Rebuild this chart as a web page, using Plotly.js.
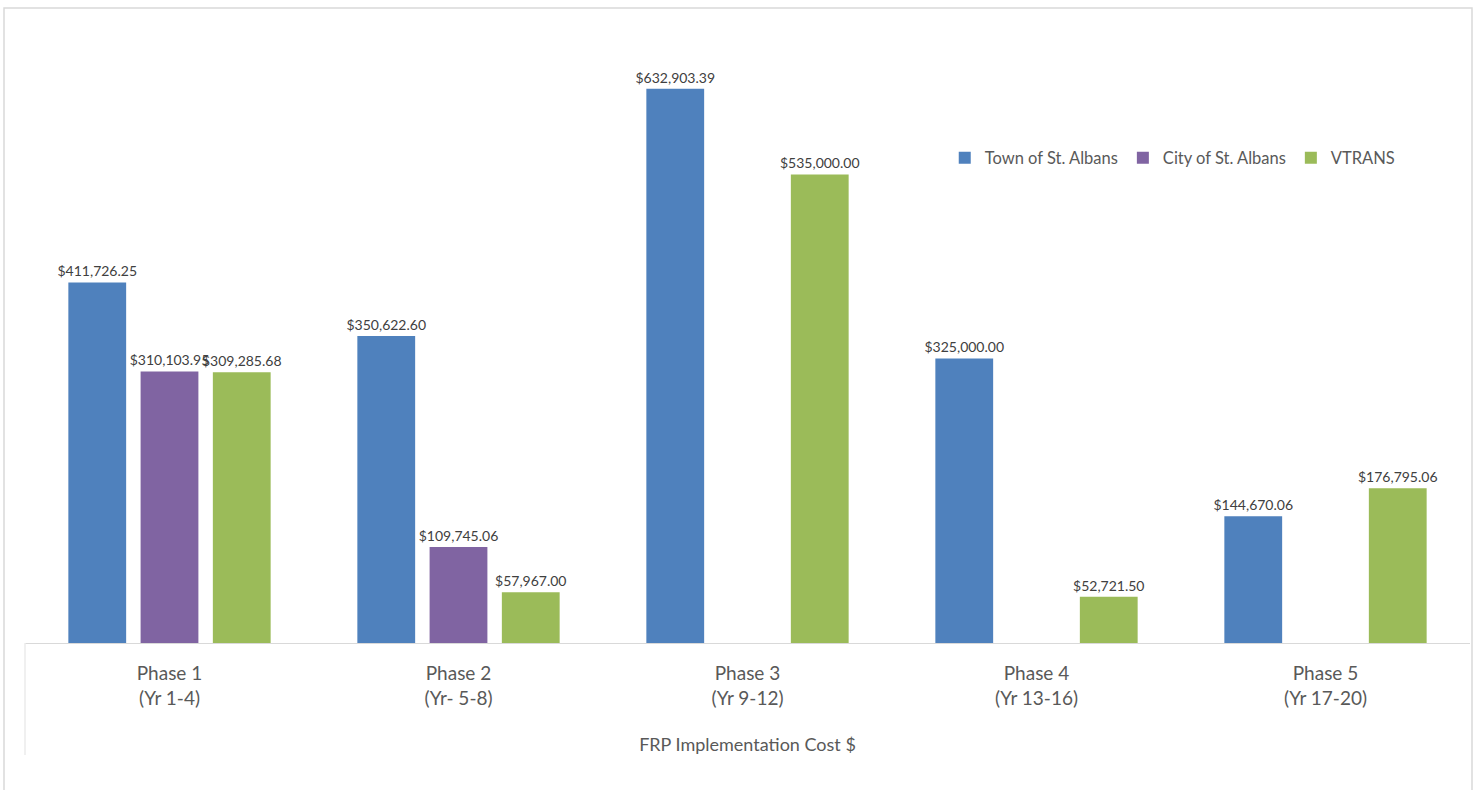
<!DOCTYPE html>
<html>
<head>
<meta charset="utf-8">
<script src="https://cdn.plot.ly/plotly-3.0.1.min.js"></script>
<style>
html,body{margin:0;padding:0;background:#fff;}
#chart{width:1479px;height:790px;}
</style>
</head>
<body>
<div id="chart"></div>
<script>
const categories = ["Phase 1<br>(Yr 1-4)", "Phase 2<br>(Yr- 5-8)", "Phase 3<br>(Yr 9-12)", "Phase 4<br>(Yr 13-16)", "Phase 5<br>(Yr 17-20)"];
const townValues = [411726.25, 350622.60, 632903.39, 325000.00, 144670.06];
const cityValues = [310103.95, 109745.06, null, null, null];
const vtransValues = [309285.68, 57967.00, 535000.00, 52721.50, 176795.06];
const seriesNames = ["Town of St. Albans", "City of St. Albans", "VTRANS"];
const seriesColors = ["#4F81BD", "#8064A2", "#9BBB59"];

const FONT = "Lato, 'Open Sans', sans-serif";
const allValues = [townValues, cityValues, vtransValues];

const traces = allValues.map((vals, i) => ({
  type: "bar",
  name: seriesNames[i],
  x: categories,
  y: vals,
  marker: {color: seriesColors[i]},
  texttemplate: "$%{y:,.2f}",
  textposition: "outside",
  constraintext: "none",
  cliponaxis: false,
  textfont: {family: FONT, size: 14, color: "#404040"},
  hoverinfo: "skip"
}));

const layout = {
  width: 1479,
  height: 790,
  margin: {l: 25, r: 9, t: 30, b: 147},
  paper_bgcolor: "#ffffff",
  plot_bgcolor: "#ffffff",
  barmode: "group",
  bargap: 0.25,
  bargroupgap: 0.2,
  font: {family: FONT, color: "#595959"},
  showlegend: true,
  legend: {
    orientation: "h",
    x: 0.6365, xanchor: "left",
    y: 0.791, yanchor: "middle",
    font: {family: FONT, size: 16.5, color: "#595959"},
    itemwidth: 30,
    traceorder: "normal",
    bgcolor: "rgba(0,0,0,0)"
  },
  xaxis: {
    type: "category",
    showline: true,
    linecolor: "#d9d9d9",
    linewidth: 1,
    showgrid: false,
    ticks: "",
    ticklabelstandoff: 13,
    tickfont: {family: FONT, size: 19, color: "#595959"},
    title: {text: "FRP Implementation Cost $", font: {family: FONT, size: 18, color: "#595959"}, standoff: 30},
    fixedrange: true
  },
  yaxis: {
    range: [0, 700000],
    visible: false,
    showgrid: false,
    zeroline: false,
    fixedrange: true
  },
  shapes: [
    {type: "rect", xref: "paper", yref: "paper", x0: -0.01453, x1: 1.00138, y0: -0.27, y1: 1.0359,
     line: {color: "#d9d9d9", width: 1.5}, fillcolor: "rgba(0,0,0,0)", layer: "below"},
    {type: "line", xref: "paper", yref: "paper", x0: 0, x1: 0, y0: 0, y1: -0.1827,
     line: {color: "#ebebeb", width: 1.5}}
  ]
};

Plotly.newPlot("chart", traces, layout, {displayModeBar: false, staticPlot: true});
</script>
</body>
</html>
